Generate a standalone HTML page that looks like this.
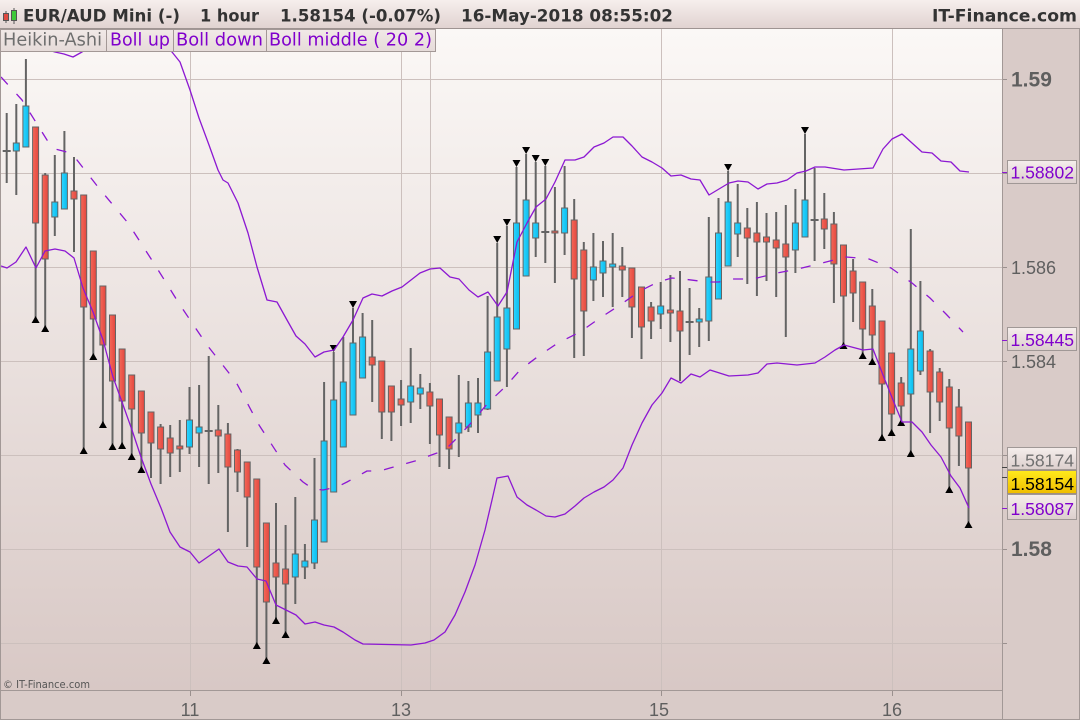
<!DOCTYPE html>
<html><head><meta charset="utf-8"><style>
html,body{margin:0;padding:0;background:#d9cbc8;}
svg{display:block;}
.hd{font-family:"DejaVu Sans","Liberation Sans",sans-serif;font-weight:bold;font-size:16.5px;fill:#333;}
.lg{font-family:"DejaVu Sans","Liberation Sans",sans-serif;font-size:17.5px;}
.ax{font-family:"Liberation Sans",sans-serif;font-size:18px;fill:#5f5f5f;}
.axb{font-family:"Liberation Sans",sans-serif;font-size:21px;font-weight:bold;fill:#5f5f5f;}
.pb{font-family:"Liberation Sans",sans-serif;font-size:17.5px;}
</style></head><body>
<svg width="1080" height="720" viewBox="0 0 1080 720" xmlns="http://www.w3.org/2000/svg">
<defs>
<linearGradient id="pg" x1="0" y1="0" x2="0" y2="1"><stop offset="0" stop-color="#fbf8f6"/><stop offset="1" stop-color="#d8c8c5"/></linearGradient>
<linearGradient id="hg" x1="0" y1="0" x2="0" y2="1"><stop offset="0" stop-color="#f6efed"/><stop offset="1" stop-color="#e0d2d0"/></linearGradient>
<linearGradient id="lgg" x1="0" y1="0" x2="0" y2="1"><stop offset="0" stop-color="#f1e9e7"/><stop offset="1" stop-color="#e6dbd9"/></linearGradient>
<linearGradient id="bx" x1="0" y1="0" x2="0" y2="1"><stop offset="0" stop-color="#f5eeec"/><stop offset="1" stop-color="#dccfcd"/></linearGradient>
<linearGradient id="yb" x1="0" y1="0" x2="0" y2="1"><stop offset="0" stop-color="#ffea1c"/><stop offset="1" stop-color="#f0bd00"/></linearGradient>
<linearGradient id="bl" x1="0" y1="0" x2="1" y2="0"><stop offset="0" stop-color="#2fd4ff"/><stop offset="1" stop-color="#08bdee"/></linearGradient>
<linearGradient id="rd" x1="0" y1="0" x2="1" y2="0"><stop offset="0" stop-color="#f56858"/><stop offset="1" stop-color="#e2473f"/></linearGradient>
<clipPath id="pc"><rect x="1" y="29" width="1001" height="661"/></clipPath>
</defs>

<rect x="0" y="0" width="1080" height="720" fill="#d9cbc8"/>
<rect x="1" y="29" width="1001" height="661" fill="url(#pg)"/>

<g stroke="#ccc0bd" stroke-width="1">
<path d="M1 79.5H1002M1 173.5H1002M1 267.5H1002M1 361.5H1002M1 455.5H1002M1 549.5H1002M1 643.5H1002"/>
<path d="M190.5 29V690M401.5 29V690M430.5 29V690M661.5 29V690M892.5 29V690"/>
</g>
<g stroke="#9a908e" stroke-width="1">
<path d="M1002 79.5H1007M1002 173.5H1007M1002 267.5H1007M1002 361.5H1007M1002 455.5H1007M1002 549.5H1007M1002 643.5H1007"/>
<path d="M190.5 690V696M401.5 690V696M661.5 690V696M892.5 690V696"/>
</g>

<g clip-path="url(#pc)">
<path fill="none" stroke="#646464" stroke-width="2" d="M6.7 113V183M16.3 104V195M25.9 59V147M35.6 127V320M45.2 173V329M54.8 155V236M64.4 131V209M74 157V252M83.7 195V450M93.3 251V356M102.9 286V424M112.5 315V446M122.1 349V445M131.7 375V456M141.4 391V469M151 412V478M160.6 424V484M170.2 425V477M179.8 420V472M189.5 387V454M199.1 385V467M208.7 356V484M218.3 405V473M227.9 423V532M237.5 449V492M247.2 462V547M256.8 479V645M266.4 523V660M276 503V620M285.6 525V634M295.3 497V604M304.9 544V579M314.5 458V569M324.1 382V542M333.7 352V492M343.3 337V447M353 308V415M362.6 313V378M372.2 320V402M381.8 361V439M391.4 386V441M401.1 380V426M410.7 348V423M420.3 374V409M429.9 383V444M439.5 399V467M449.1 417V469M458.8 375V457M468.4 381V432M478 378V433M487.6 296V410M497.2 243V381M506.9 226V387M516.5 167V329M526.1 154V276M535.7 162V257M545.3 166V263M554.9 187V283M564.6 166V255M574.2 199V358M583.8 242V356M593.4 233V301M603 241V297M612.7 233V307M622.3 247V297M631.9 268V338M641.5 287V359M651.1 302V339M660.7 282V329M670.4 275V342M680 271V381M689.6 288V355M699.2 308V347M708.8 217V341M718.5 198V299M728.1 171V266M737.7 184V257M747.3 208V284M756.9 202V296M766.5 213V281M776.2 212V297M785.8 205V337M795.4 189V273M805 134V237M814.6 168V261M824.3 193V249M833.9 212V303M843.5 245V345M853.1 259V322M862.7 282V355M872.3 289V361M882 321V437M891.6 353V432M901.2 377V423M910.8 229V453M920.4 281V375M930.1 349V433M939.7 368V421M949.3 379V489M958.9 389V466M968.5 422V524"/>
<path fill="none" stroke="#646464" stroke-width="2" d="M2.7 151H10.7M204.7 431H212.7M541.3 232H549.3M685.6 322H693.6M810.6 220H818.6"/>
<g fill="url(#bl)" stroke="#646464" stroke-width="1">
<rect x="13.3" y="143" width="6" height="8"/>
<rect x="22.9" y="106" width="6" height="41"/>
<rect x="51.8" y="202" width="6" height="15"/>
<rect x="61.4" y="173" width="6" height="36"/>
<rect x="186.5" y="420" width="6" height="27"/>
<rect x="196.1" y="427" width="6" height="6"/>
<rect x="292.3" y="554" width="6" height="23"/>
<rect x="301.9" y="561" width="6" height="6"/>
<rect x="311.5" y="520" width="6" height="43"/>
<rect x="321.1" y="441" width="6" height="101"/>
<rect x="330.7" y="400" width="6" height="92"/>
<rect x="340.3" y="382" width="6" height="65"/>
<rect x="350" y="343" width="6" height="72"/>
<rect x="359.6" y="337" width="6" height="41"/>
<rect x="407.7" y="386" width="6" height="16"/>
<rect x="417.3" y="388" width="6" height="6"/>
<rect x="455.8" y="423" width="6" height="10"/>
<rect x="465.4" y="403" width="6" height="24"/>
<rect x="475" y="403" width="6" height="12"/>
<rect x="484.6" y="352" width="6" height="57"/>
<rect x="494.2" y="317" width="6" height="64"/>
<rect x="503.9" y="308" width="6" height="41"/>
<rect x="513.5" y="223" width="6" height="106"/>
<rect x="523.1" y="200" width="6" height="76"/>
<rect x="532.7" y="223" width="6" height="15"/>
<rect x="561.6" y="208" width="6" height="25"/>
<rect x="590.4" y="267" width="6" height="13"/>
<rect x="600" y="261" width="6" height="12"/>
<rect x="609.7" y="264" width="6" height="3"/>
<rect x="657.7" y="306" width="6" height="8"/>
<rect x="696.2" y="319" width="6" height="3"/>
<rect x="705.8" y="277" width="6" height="44"/>
<rect x="715.5" y="233" width="6" height="66"/>
<rect x="725.1" y="202" width="6" height="64"/>
<rect x="734.7" y="223" width="6" height="11"/>
<rect x="792.4" y="223" width="6" height="27"/>
<rect x="802" y="200" width="6" height="37"/>
<rect x="907.8" y="349" width="6" height="45"/>
<rect x="917.4" y="331" width="6" height="40"/>
</g>
<g fill="url(#rd)" stroke="#646464" stroke-width="1">
<rect x="32.6" y="127" width="6" height="96"/>
<rect x="42.2" y="175" width="6" height="84"/>
<rect x="71" y="191" width="6" height="8"/>
<rect x="80.7" y="195" width="6" height="112"/>
<rect x="90.3" y="251" width="6" height="68"/>
<rect x="99.9" y="286" width="6" height="59"/>
<rect x="109.5" y="315" width="6" height="66"/>
<rect x="119.1" y="349" width="6" height="52"/>
<rect x="128.7" y="375" width="6" height="34"/>
<rect x="138.4" y="391" width="6" height="42"/>
<rect x="148" y="412" width="6" height="31"/>
<rect x="157.6" y="427" width="6" height="22"/>
<rect x="167.2" y="438" width="6" height="15"/>
<rect x="176.8" y="446" width="6" height="3"/>
<rect x="215.3" y="430" width="6" height="6"/>
<rect x="224.9" y="434" width="6" height="33"/>
<rect x="234.5" y="450" width="6" height="22"/>
<rect x="244.2" y="462" width="6" height="35"/>
<rect x="253.8" y="479" width="6" height="88"/>
<rect x="263.4" y="523" width="6" height="79"/>
<rect x="273" y="563" width="6" height="14"/>
<rect x="282.6" y="569" width="6" height="15"/>
<rect x="369.2" y="357" width="6" height="8"/>
<rect x="378.8" y="361" width="6" height="51"/>
<rect x="388.4" y="386" width="6" height="26"/>
<rect x="398.1" y="399" width="6" height="6"/>
<rect x="426.9" y="392" width="6" height="14"/>
<rect x="436.5" y="399" width="6" height="36"/>
<rect x="446.1" y="417" width="6" height="32"/>
<rect x="551.9" y="231" width="6" height="2"/>
<rect x="571.2" y="220" width="6" height="59"/>
<rect x="580.8" y="250" width="6" height="61"/>
<rect x="619.3" y="266" width="6" height="4"/>
<rect x="628.9" y="268" width="6" height="39"/>
<rect x="638.5" y="287" width="6" height="40"/>
<rect x="648.1" y="307" width="6" height="14"/>
<rect x="667.4" y="310" width="6" height="3"/>
<rect x="677" y="311" width="6" height="20"/>
<rect x="744.3" y="228" width="6" height="10"/>
<rect x="753.9" y="233" width="6" height="9"/>
<rect x="763.5" y="237" width="6" height="5"/>
<rect x="773.2" y="240" width="6" height="8"/>
<rect x="782.8" y="244" width="6" height="13"/>
<rect x="821.3" y="219" width="6" height="10"/>
<rect x="830.9" y="224" width="6" height="40"/>
<rect x="840.5" y="245" width="6" height="51"/>
<rect x="850.1" y="271" width="6" height="22"/>
<rect x="859.7" y="282" width="6" height="47"/>
<rect x="869.3" y="306" width="6" height="29"/>
<rect x="879" y="321" width="6" height="63"/>
<rect x="888.6" y="353" width="6" height="61"/>
<rect x="898.2" y="383" width="6" height="23"/>
<rect x="927.1" y="351" width="6" height="41"/>
<rect x="936.7" y="372" width="6" height="30"/>
<rect x="946.3" y="387" width="6" height="41"/>
<rect x="955.9" y="407" width="6" height="29"/>
<rect x="965.5" y="422" width="6" height="46"/>
</g>
<path fill="#000" d="M31.6 323L39.6 323L35.6 316ZM41.2 332L49.2 332L45.2 325ZM79.7 454L87.7 454L83.7 447ZM89.3 360L97.3 360L93.3 353ZM98.9 428L106.9 428L102.9 421ZM108.5 450L116.5 450L112.5 443ZM118.1 449L126.1 449L122.1 442ZM127.7 460L135.7 460L131.7 453ZM137.4 473L145.4 473L141.4 466ZM252.8 649L260.8 649L256.8 642ZM262.4 664L270.4 664L266.4 657ZM272 624L280 624L276 617ZM281.6 638L289.6 638L285.6 631ZM839.5 349L847.5 349L843.5 342ZM858.7 359L866.7 359L862.7 352ZM868.3 365L876.3 365L872.3 358ZM878 441L886 441L882 434ZM887.6 436L895.6 436L891.6 429ZM897.2 426L905.2 426L901.2 419ZM906.8 457L914.8 457L910.8 450ZM945.3 493L953.3 493L949.3 486ZM964.5 528L972.5 528L968.5 521Z"/>
<path fill="#000" d="M329.7 345L337.7 345L333.7 352ZM349 301L357 301L353 308ZM493.2 236L501.2 236L497.2 243ZM502.9 219L510.9 219L506.9 226ZM512.5 160L520.5 160L516.5 167ZM522.1 147L530.1 147L526.1 154ZM531.7 155L539.7 155L535.7 162ZM541.3 159L549.3 159L545.3 166ZM724.1 164L732.1 164L728.1 171ZM801 127L809 127L805 134Z"/>

<g fill="none" stroke="#8c18d2" stroke-width="1.3" stroke-linejoin="round">
<polyline points="1,38 16,40 26,43 36,46 45,49 55,52 64,54 73,57 82,52 92,46 103,40 113,36 122,34 132,33 142,34 151,38 161,44 172,52 180,62 190,90 199,118 209,145 218,170 223,180 228,183 238,203 248,233 257,267 267,300 277,302 287,320 296,336 305,344 315,357 324,352 334,350 343,337 353,320 363,298 372,294 382,296 392,291 402,287 411,280 420,273 430,269 440,268 450,277 459,279 469,290 478,297 488,292 498,306 507,292 517,242 527,223 536,207 546,199 555,182 565,160 575,160 584,157 594,147 604,143 613,137 623,137 632,146 642,157 652,162 662,168 671,176 681,175 691,179 700,180 709,195 719,189 729,183 738,181 748,182 758,189 767,184 777,183 787,180 797,173 806,171 815,167 825,167 844,170 873,168 883,149 892,139 902,134 912,143 922,152 932,153 941,161 951,162 960,171 969,172"/>
<polyline points="1,266 7,268 16,262 26,247 36,268 45,251 55,249 65,251 74,258 83,288 93,312 103,340 113,377 122,402 132,430 141,457 151,484 161,508 170,532 180,547 190,552 199,563 209,556 219,549 228,562 238,566 247,567 257,579 266,581 276,605 286,610 296,615 305,624 315,622 324,625 334,627 343,632 355,640 363,644 411,645 425,643 434,640 445,632 455,615 465,592 475,565 485,530 492,500 497,478 508,476 517,497 527,505 536,510 546,516 555,517 565,514 575,506 584,498 594,492 604,487 613,480 623,468 632,445 642,423 652,405 662,393 671,378 681,383 691,374 700,377 710,370 729,376 748,375 758,373 767,364 777,363 797,365 815,363 825,357 835,350 844,345 863,350 873,349 883,375 893,400 902,422 912,422 922,432 931,445 941,457 951,476 960,488 969,508"/>
<polyline stroke-dasharray="10 13" points="1,77 22,100 47,140 55,149 67,152 77,160 98,187 128,223 155,265 180,305 207,345 236,382 259,425 285,465 303,482 313,489 323,490 337,487 347,482 367,471 380,471 390,468 415,461 437,453 447,448 455,440 472,422 488,403 505,387 520,370 540,355 558,343 580,332 600,318 620,305 640,291 658,282 672,278 683,279 707,282 719,282 730,279 753,279 777,273 798,269 822,263 846,257 858,258 869,259 891,268 912,283 930,298 946,314 963,332"/>
</g>
</g>

<g stroke="#a29896" stroke-width="1" fill="none">
<path d="M0.5 29V720M0 690.5H1002.5M1002.5 29V720M0 719.5H1080M1079.5 0V720"/>
</g>

<text x="3" y="688" font-family="DejaVu Sans, Liberation Sans, sans-serif" font-size="10.5" fill="#555" textLength="87" lengthAdjust="spacingAndGlyphs">© IT-Finance.com</text>

<text class="ax" x="190" y="716" text-anchor="middle">11</text>
<text class="ax" x="401" y="716" text-anchor="middle">13</text>
<text class="ax" x="659" y="716" text-anchor="middle">15</text>
<text class="ax" x="892" y="716" text-anchor="middle">16</text>

<text class="axb" x="1011" y="86.5">1.59</text>
<text class="ax" x="1011" y="274">1.586</text>
<text class="ax" x="1011" y="368">1.584</text>
<text class="axb" x="1011" y="556">1.58</text>

<path d="M1002 172.5H1008M1002 340.5H1008M1002 508.5H1008" stroke="#8c18d2" stroke-width="1"/>
<path d="M1002 467.5H1008M1002 477.5H1008" stroke="#444" stroke-width="1"/>
<rect x="1007.5" y="160.5" width="69" height="23" fill="url(#bx)" stroke="#a09896"/>
<text class="pb" x="1010.5" y="178.5" fill="#8000cc" textLength="63.5" lengthAdjust="spacingAndGlyphs">1.58802</text>
<rect x="1007.5" y="327.5" width="69" height="23" fill="url(#bx)" stroke="#a09896"/>
<text class="pb" x="1010.5" y="346" fill="#8000cc" textLength="63.5" lengthAdjust="spacingAndGlyphs">1.58445</text>
<rect x="1007.5" y="447.5" width="69" height="22" fill="url(#bx)" stroke="#a09896"/>
<text class="pb" x="1010.5" y="466.5" fill="#707070" textLength="63.5" lengthAdjust="spacingAndGlyphs">1.58174</text>
<rect x="1007.5" y="470.5" width="69" height="23" fill="url(#yb)" stroke="#a09080"/>
<text class="pb" x="1010.5" y="490" fill="#000" textLength="63.5" lengthAdjust="spacingAndGlyphs">1.58154</text>
<rect x="1007.5" y="494.5" width="69" height="25" fill="url(#bx)" stroke="#a09896"/>
<text class="pb" x="1010.5" y="515" fill="#8000cc" textLength="63.5" lengthAdjust="spacingAndGlyphs">1.58087</text>

<g stroke="#a39896" stroke-width="1" fill="url(#lgg)">
<rect x="0.5" y="29.5" width="106" height="22"/>
<rect x="106.5" y="29.5" width="67" height="22"/>
<rect x="173.5" y="29.5" width="93" height="22"/>
<rect x="266.5" y="29.5" width="169" height="22"/>
</g>
<text class="lg" x="3" y="45.5" fill="#6e6e6e" textLength="99" lengthAdjust="spacingAndGlyphs">Heikin-Ashi</text>
<text class="lg" x="110" y="45.5" fill="#8000cc" textLength="60" lengthAdjust="spacingAndGlyphs">Boll up</text>
<text class="lg" x="176" y="45.5" fill="#8000cc" textLength="87" lengthAdjust="spacingAndGlyphs">Boll down</text>
<text class="lg" x="269" y="45.5" fill="#8000cc" textLength="163" lengthAdjust="spacingAndGlyphs">Boll middle ( 20 2)</text>

<rect x="0" y="0" width="1080" height="28.5" fill="url(#hg)"/>
<path d="M0 28.5H1080" stroke="#9e9492" stroke-width="1"/>
<path d="M6 11V23M14 8V24" stroke="#555" stroke-width="1"/>
<rect x="3.5" y="13.5" width="5" height="7" fill="#e04a40" stroke="#555"/>
<rect x="11.5" y="10.5" width="5" height="10" fill="#3fca3a" stroke="#555"/>
<text class="hd" x="23" y="21.5" textLength="157" lengthAdjust="spacingAndGlyphs">EUR/AUD Mini (-)</text>
<text class="hd" x="200" y="21.5" textLength="59" lengthAdjust="spacingAndGlyphs">1 hour</text>
<text class="hd" x="280" y="21.5" textLength="161" lengthAdjust="spacingAndGlyphs">1.58154 (-0.07%)</text>
<text class="hd" x="461" y="21.5" textLength="212" lengthAdjust="spacingAndGlyphs">16-May-2018 08:55:02</text>
<text class="hd" x="932" y="21.5" textLength="145" lengthAdjust="spacingAndGlyphs">IT-Finance.com</text>
</svg>
</body></html>
